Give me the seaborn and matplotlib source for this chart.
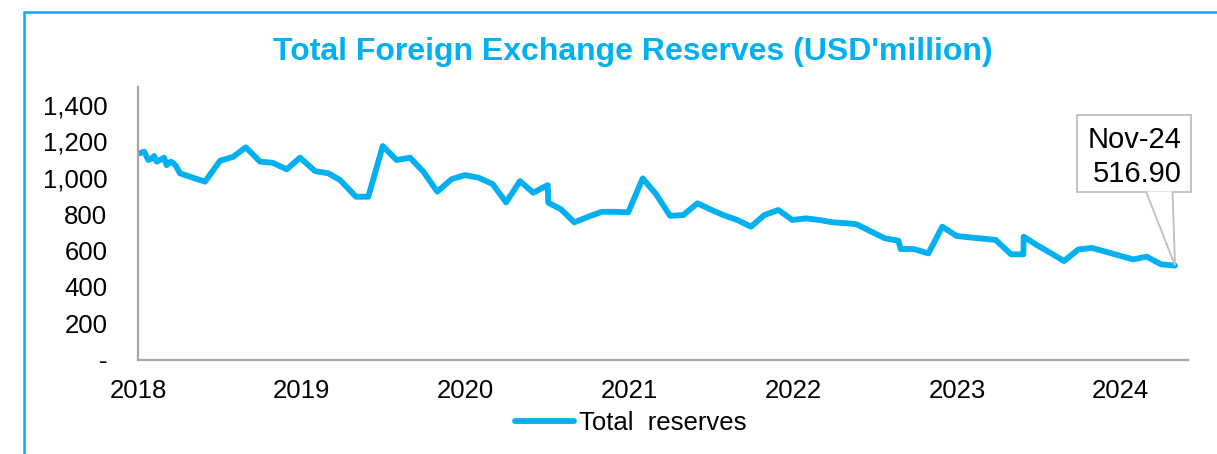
import matplotlib
matplotlib.use("Agg")
import matplotlib.pyplot as plt
import matplotlib.ticker as mticker
from matplotlib.patches import Rectangle, Polygon
import pandas as pd
import seaborn as sns

BLUE = "#00B0F0"
GREY = "#A6A6A6"
CALLOUT_GREY = "#BFBFBF"
W, H = 1217, 454

# position on the time axis (years) and reserves (USD million)
period = [
    2018.008, 2018.038, 2018.063, 2018.084, 2018.098, 2018.114, 2018.134, 2018.159,
    2018.175, 2018.200, 2018.216, 2018.232, 2018.256, 2018.328, 2018.409, 2018.501,
    2018.582, 2018.658, 2018.745, 2018.822, 2018.908, 2018.989, 2019.081, 2019.162,
    2019.233, 2019.331, 2019.406, 2019.494, 2019.579, 2019.661, 2019.742, 2019.827,
    2019.915, 2019.996, 2020.078, 2020.165, 2020.247, 2020.332, 2020.413, 2020.501,
    2020.505, 2020.582, 2020.664, 2020.749, 2020.831, 2020.912, 2020.993, 2021.081,
    2021.162, 2021.248, 2021.329, 2021.415, 2021.492, 2021.573, 2021.659, 2021.742,
    2021.824, 2021.909, 2021.995, 2022.078, 2022.159, 2022.241, 2022.327, 2022.388,
    2022.469, 2022.560, 2022.642, 2022.656, 2022.737, 2022.825, 2022.910, 2022.998,
    2023.079, 2023.161, 2023.236, 2023.330, 2023.405, 2023.407, 2023.487, 2023.568,
    2023.653, 2023.741, 2023.822, 2023.910, 2023.995, 2024.076, 2024.158, 2024.245,
    2024.331,
]
reserves = [
    1135, 1144, 1098, 1107, 1120, 1089, 1098, 1111,
    1070, 1089, 1080, 1065, 1025, 1003, 979, 1094,
    1116, 1168, 1089, 1083, 1047, 1111, 1037, 1025,
    988, 896, 896, 1175, 1098, 1111, 1034, 924,
    993, 1015, 1001, 966, 865, 982, 918, 960,
    863, 827, 755, 786, 813, 813, 810, 997,
    911, 791, 795, 860, 827, 795, 768, 731,
    795, 823, 768, 777, 768, 755, 750, 744,
    707, 667, 654, 608, 608, 584, 731, 680,
    672, 665, 658, 579, 579, 676, 630, 588,
    542, 606, 614, 593, 571, 551, 566, 524,
    516.90,
]
year_ticks = [2018, 2019, 2020, 2021, 2022, 2023, 2024]
last_label = "Nov-24"

df = pd.DataFrame({"period": period, "reserves": reserves})

plt.rcParams["font.family"] = ["Liberation Sans", "DejaVu Sans"]

fig = plt.figure(figsize=(W / 100, H / 100), dpi=100)
ax = fig.add_axes([138 / W, 1 - 359.5 / H, 1050 / W, 272.5 / H])

sns.lineplot(data=df, x="period", y="reserves", ax=ax, color=BLUE,
             linewidth=4.2, label="Total  reserves", legend=False,
             solid_joinstyle="round", solid_capstyle="round")

ax.set_xlim(2018, 2024.41)
ax.set_ylim(0, 1500)
ax.set_xticks(year_ticks)
ax.set_xticklabels([str(y) for y in year_ticks])
ax.set_yticks(range(0, 1401, 200))
ax.yaxis.set_major_formatter(mticker.FuncFormatter(
    lambda v, _: "-" if v == 0 else f"{v:,.0f}"))
ax.tick_params(axis="both", length=0, labelsize=18.5, colors="black")
ax.tick_params(axis="y", pad=22)
ax.tick_params(axis="x", pad=14)
ax.set_xlabel("")
ax.set_ylabel("")
for side in ["top", "right"]:
    ax.spines[side].set_visible(False)
for side in ["left", "bottom"]:
    ax.spines[side].set_color(GREY)
    ax.spines[side].set_linewidth(1.6)


def fig_xy(x_px, y_px_from_top):
    return x_px / W, 1 - y_px_from_top / H


# callout for the latest value: box, pointer to the last point, two text lines
box_l, box_r, box_t, box_b = 1077, 1191, 115, 191.5
fig.patches.append(Rectangle(fig_xy(box_l, box_b), (box_r - box_l) / W, (box_b - box_t) / H,
                             transform=fig.transFigure, fc="white", ec=CALLOUT_GREY,
                             lw=1.3, zorder=5))
tip = fig.transFigure.inverted().transform(
    ax.transData.transform((period[-1], reserves[-1])))
fig.patches.append(Polygon([fig_xy(1146, box_b), tuple(tip), fig_xy(1172.5, box_b)],
                           closed=False, transform=fig.transFigure, fc="white",
                           ec=CALLOUT_GREY, lw=1.3, zorder=6))
fig.text(*fig_xy(1182, 148.5), last_label, ha="right", va="baseline",
         fontsize=21, zorder=7)
fig.text(*fig_xy(1182, 182), f"{reserves[-1]:.2f}", ha="right", va="baseline",
         fontsize=21, zorder=7)

fig.text(633 / W, 1 - 52 / H, "Total Foreign Exchange Reserves (USD'million)",
         ha="center", va="center", fontsize=23, fontweight="bold", color=BLUE)

handles, labels = ax.get_legend_handles_labels()
fig.legend(handles, labels, loc="center", bbox_to_anchor=(631 / W, 1 - 423 / H),
           frameon=False, fontsize=18.5, handlelength=2.3, handletextpad=0.2)

# outer chart frame (open at right and bottom, as cropped)
fig.patches.append(Rectangle((24 / W, -0.05), 1.2, 1 - 12 / H + 0.05,
                             transform=fig.transFigure, fill=False,
                             ec=BLUE, lw=1.8))

fig.savefig("out.png", dpi=100)
